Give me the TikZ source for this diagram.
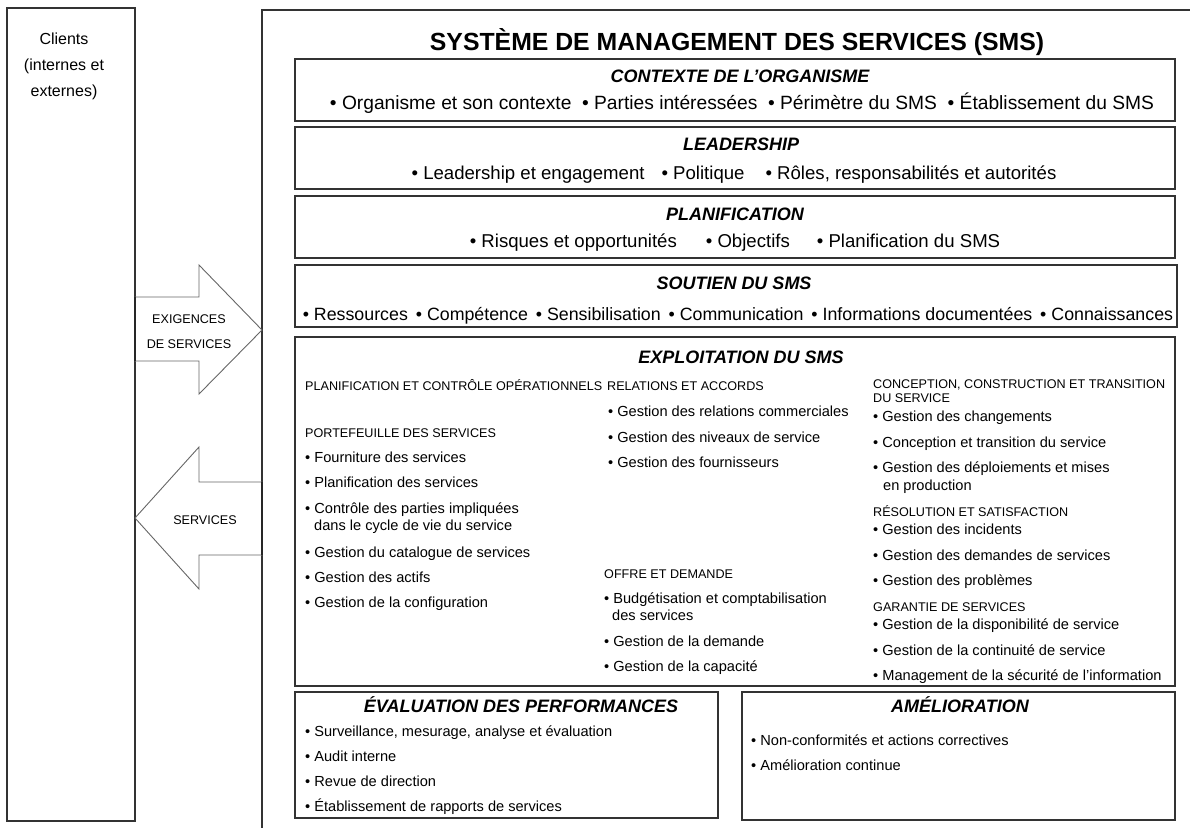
\documentclass[tikz,border=0pt]{standalone}
\usepackage{fontspec}
\setmainfont{Liberation Sans}
\usetikzlibrary{fit}
\begin{document}
\begin{tikzpicture}[x=1pt,y=-1pt,
  box/.style={draw=black!80, line width=1.6pt, inner sep=0pt},
  arrowshape/.style={draw=black!60, line width=0.9pt, fill=white},
  ttl/.style={font=\fontsize{18}{20}\selectfont\bfseries\itshape, anchor=base, inner sep=0pt},
  row/.style={font=\fontsize{18.6}{22}\selectfont, anchor=base, inner sep=0pt},
  hd/.style={font=\fontsize{12.6}{14}\selectfont, anchor=base west, inner sep=0pt},
  itm/.style={font=\fontsize{14.6}{17}\selectfont, anchor=base west, inner sep=0pt},
  cl/.style={font=\fontsize{16}{18}\selectfont, anchor=base, inner sep=0pt},
  arr/.style={font=\fontsize{12.6}{14}\selectfont, anchor=base, inner sep=0pt}]
\useasboundingbox (0,0) rectangle (1190,828);

% clients box
\node[box, fit={(7,8) (135,821)}] (clients) {};
\node[cl] (cl1) at (64,44) {Clients};
\node[cl] (cl2) at (64,70) {(internes et};
\node[cl] (cl3) at (64,96) {externes)};

% SMS outer frame (open to the right and bottom)
\coordinate (smsTR) at (1190,10);
\coordinate (smsBL) at (262,828);
\draw[box] (smsTR) -| (smsBL);

% arrows
\draw[arrowshape] (135,297) -- (199,297) -- (199,265) -- (262,330) -- (199,394) -- (199,361) -- (135,361) -- cycle;
\draw[arrowshape] (262,482) -- (199,482) -- (199,447) -- (135,518) -- (199,589) -- (199,555) -- (262,555) -- cycle;
\draw[black!85, line width=1.6pt] (135,297) -- (135,361);
\draw[black!85, line width=1.6pt] (262,482) -- (262,555);
\node[arr] (ex1) at (189,323) {EXIGENCES};
\node[arr] (ex2) at (189,348) {DE SERVICES};
\node[arr] (sv) at (205,524) {SERVICES};

% title
\node[font=\fontsize{24.8}{28}\selectfont\bfseries, anchor=base, inner sep=0pt] (title) at (737,50) {SYSTÈME DE MANAGEMENT DES SERVICES (SMS)};

% contexte
\node[box, fit={(295,59) (1175,121)}] (ctx) {};
\node[ttl] (ctxT) at (740,82.5) {CONTEXTE DE L’ORGANISME};
\node[row, font=\fontsize{19.2}{22}\selectfont] (ctxR) at (742,109) {• Organisme et son contexte\ \ • Parties intéressées\ \ • Périmètre du SMS\ \ • Établissement du SMS};

% leadership
\node[box, fit={(295,127) (1175,189)}] (lead) {};
\node[ttl] (leadT) at (741,150.5) {LEADERSHIP};
\node[row] (leadR) at (734,179) {• Leadership et engagement\hspace{17pt}• Politique\hspace{21pt}• Rôles, responsabilités et autorités};

% planification
\node[box, fit={(295,196) (1175,258)}] (plan) {};
\node[ttl] (planT) at (735,220.5) {PLANIFICATION};
\node[row] (planR) at (735,247) {• Risques et opportunités\hspace{29pt}• Objectifs\hspace{27pt}• Planification du SMS};

% soutien
\node[box, fit={(295,265) (1177,327)}] (sout) {};
\node[ttl] (soutT) at (734,289.5) {SOUTIEN DU SMS};
\node[row, font=\fontsize{17.8}{22}\selectfont] (soutR) at (738,320) {• Ressources \,• Compétence \,• Sensibilisation \,• Communication \,• Informations documentées \,• Connaissances};

% exploitation
\node[box, fit={(295,337) (1175,686)}] (expl) {};
\node[ttl] (explT) at (741,363.5) {EXPLOITATION DU SMS};

\node[hd] (pco) at (305,390) {PLANIFICATION ET CONTRÔLE OPÉRATIONNELS};
\node[hd] (pds) at (305,437) {PORTEFEUILLE DES SERVICES};
\node[itm] (p1) at (305,462) {• Fourniture des services};
\node[itm] (p2) at (305,487) {• Planification des services};
\node[itm] (p3) at (305,513) {• Contrôle des parties impliquées};
\node[itm] (p3b) at (314,530) {dans le cycle de vie du service};
\node[itm] (p4) at (305,557) {• Gestion du catalogue de services};
\node[itm] (p5) at (305,582) {• Gestion des actifs};
\node[itm] (p6) at (305,607) {• Gestion de la configuration};

\node[hd] (rea) at (607,390) {RELATIONS ET ACCORDS};
\node[itm] (r1) at (608,416) {• Gestion des relations commerciales};
\node[itm] (r2) at (608,442) {• Gestion des niveaux de service};
\node[itm] (r3) at (608,467) {• Gestion des fournisseurs};

\node[hd] (oed) at (604,578) {OFFRE ET DEMANDE};
\node[itm] (o1) at (604,603) {• Budgétisation et comptabilisation};
\node[itm] (o1b) at (612,620) {des services};
\node[itm] (o2) at (604,646) {• Gestion de la demande};
\node[itm] (o3) at (604,671) {• Gestion de la capacité};

\node[hd] (cct) at (873,388) {CONCEPTION, CONSTRUCTION ET TRANSITION};
\node[hd] (cct2) at (873,402) {DU SERVICE};
\node[itm] (c1) at (873,421) {• Gestion des changements};
\node[itm] (c2) at (873,447) {• Conception et transition du service};
\node[itm] (c3) at (873,472) {• Gestion des déploiements et mises};
\node[itm] (c3b) at (883,490) {en production};
\node[hd] (res) at (873,516) {RÉSOLUTION ET SATISFACTION};
\node[itm] (s1) at (873,534) {• Gestion des incidents};
\node[itm] (s2) at (873,560) {• Gestion des demandes de services};
\node[itm] (s3) at (873,585) {• Gestion des problèmes};
\node[hd] (gar) at (873,611) {GARANTIE DE SERVICES};
\node[itm] (g1) at (873,629) {• Gestion de la disponibilité de service};
\node[itm] (g2) at (873,655) {• Gestion de la continuité de service};
\node[itm] (g3) at (873,680) {• Management de la sécurité de l’information};

% evaluation
\node[box, fit={(295,692) (718,818)}] (eval) {};
\node[ttl] (evalT) at (521,712) {ÉVALUATION DES PERFORMANCES};
\node[itm] (e1) at (305,736) {• Surveillance, mesurage, analyse et évaluation};
\node[itm] (e2) at (305,761) {• Audit interne};
\node[itm] (e3) at (305,786) {• Revue de direction};
\node[itm] (e4) at (305,811) {• Établissement de rapports de services};

% amelioration
\node[box, fit={(742,692) (1175,820)}] (amel) {};
\node[ttl] (amelT) at (960,712) {AMÉLIORATION};
\node[itm] (a1) at (751,745) {• Non-conformités et actions correctives};
\node[itm] (a2) at (751,770) {• Amélioration continue};
\end{tikzpicture}
\end{document}
